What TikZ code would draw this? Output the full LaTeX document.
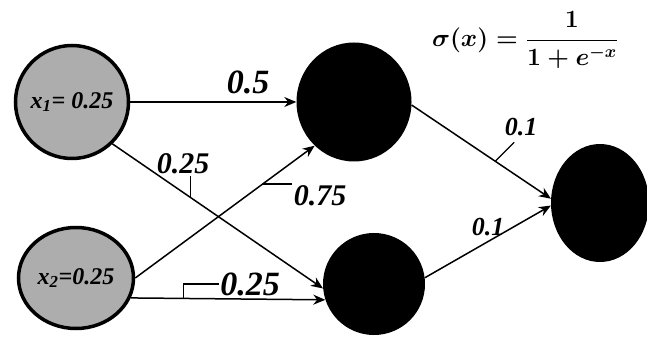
\documentclass[tikz,border=0pt]{standalone}
\usepackage{fontspec}
\setmainfont{LiberationSerif}[Extension=.ttf, UprightFont=*-Regular, BoldFont=*-Bold,
    ItalicFont=*-Italic, BoldItalicFont=*-BoldItalic]
\usepackage{amsmath}
\usetikzlibrary{shapes.geometric, arrows.meta, positioning}

\begin{document}
\begin{tikzpicture}[
    x=1pt, y=-1pt,
    innode/.style={ellipse, draw=black, line width=3.5pt, fill=black!32, inner sep=0pt,
                   font=\rmfamily\bfseries\itshape\fontsize{24}{24}\selectfont},
    neuron/.style={ellipse, fill=black, inner sep=0pt},
    arrow/.style={-{Stealth[length=12pt, width=10pt]}, line width=1.5pt},
    leader/.style={line width=1.3pt},
    weight/.style={inner sep=1.5pt, font=\rmfamily\bfseries\itshape\fontsize{30}{30}\selectfont}
]
\useasboundingbox (0,0) rectangle (647,344);

% Nodes
\node[innode, minimum width=113pt, minimum height=113pt] (x1) at (72,102) {\makebox[0pt]{x\textsubscript{1}= 0.25}};
\node[innode, minimum width=115pt, minimum height=101pt] (x2) at (76,278) {\makebox[0pt]{x\textsubscript{2}=0.25}};

\node[neuron, minimum width=115pt, minimum height=119pt] (h1) at (354,102) {};
\node[neuron, minimum width=102pt, minimum height=102pt] (h2) at (374,284) {};
\node[neuron, minimum width=98pt, minimum height=118pt] (out) at (600,203) {};

\node[font=\boldmath\fontsize{24}{28}\selectfont] (sig) at (525,40) {$\sigma(x) = \dfrac{1}{1+e^{-x}}$};

% Arrows
\draw[arrow] (x1.east) -- (h1.west);
\draw[arrow] (x1.-46) -- coordinate[pos=0.37] (p1) (h2.185);
\draw[arrow] (x2.east) -- coordinate[pos=0.71] (p2) (h1.228);
\draw[arrow] (x2.-20) -- coordinate[pos=0.27] (p3) (h2.198);
\draw[arrow] (h1.-3) -- coordinate[pos=0.6] (p4) (out.175);
\draw[arrow] (h2.7) -- (out.183);

% Weights
\node[weight, font=\rmfamily\bfseries\itshape\fontsize{34}{34}\selectfont] (w1) at (248,82) {0.5};
\node[weight] (w2) at (183,164) {0.25};
\node[weight] (w3) at (320,196) {0.75};
\node[weight, font=\rmfamily\bfseries\itshape\fontsize{34}{34}\selectfont] (w4) at (250,284) {0.25};
\node[weight, font=\rmfamily\bfseries\itshape\fontsize{26}{26}\selectfont] (w5) at (521,127) {0.1};
\node[weight, font=\rmfamily\bfseries\itshape\fontsize{26}{26}\selectfont] (w6) at (488,227) {0.1};

\draw[leader] (p1) -- (p1 |- w2.south);
\draw[leader] (p2) -- (p2 -| w3.west);
\draw[leader] (p3) |- (w4.west);
\draw[leader] (p4) -- ++(19,-19);

\end{tikzpicture}
\end{document}
